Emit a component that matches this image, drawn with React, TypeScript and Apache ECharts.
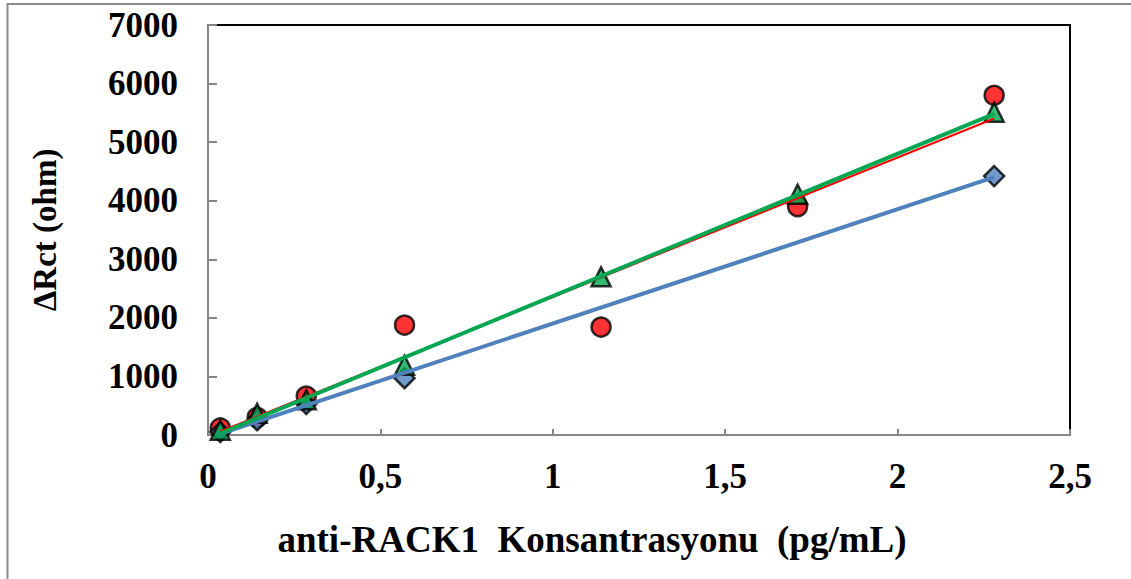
import React, { useEffect, useRef } from "react";
import * as echarts from "echarts";

// Concentrations (pg/mL)
const xValues = [0.0356, 0.1425, 0.285, 0.57, 1.14, 1.71, 2.28];
const redValues = [120, 300, 665, 1877, 1843, 3900, 5800];
const greenValues = [80, 370, 600, 1190, 2700, 4110, 5510];
const blueX = [0.0356, 0.1425, 0.285, 0.57, 2.28];
const blueValues = [50, 250, 530, 970, 4420];

const xTicks = { min: 0, max: 2.5, interval: 0.5 };
const yTicks = { min: 0, max: 7000, interval: 1000 };

const xName = "anti-RACK1  Konsantrasyonu  (pg/mL)";
const yName = "ΔRct (ohm)";

function fit(xs: number[], ys: number[]) {
  const n = xs.length;
  const mx = xs.reduce((a, b) => a + b, 0) / n;
  const my = ys.reduce((a, b) => a + b, 0) / n;
  let sxy = 0;
  let sxx = 0;
  for (let i = 0; i < n; i++) {
    sxy += (xs[i] - mx) * (ys[i] - my);
    sxx += (xs[i] - mx) * (xs[i] - mx);
  }
  const slope = sxy / sxx;
  const icpt = my - slope * mx;
  const x0 = Math.min(...xs);
  const x1 = Math.max(...xs);
  return [
    [x0, icpt + slope * x0],
    [x1, icpt + slope * x1],
  ];
}

const FONT = "'Times New Roman', 'Liberation Serif', serif";

export default function App() {
  const ref = useRef<HTMLDivElement>(null);
  useEffect(() => {
    if (!ref.current) return;
    const chart = echarts.init(ref.current, null, { renderer: "svg" });
    const pts = (xs: number[], ys: number[]) => xs.map((x, i) => [x, ys[i]]);
    chart.setOption({
      animation: false,
      backgroundColor: "#fff",
      graphic: [
        {
          type: "rect",
          shape: { x: 7.5, y: 4, width: 1300, height: 800 },
          style: { fill: "none", stroke: "#8c8c8c", lineWidth: 2 },
          z: -1,
          silent: true,
        },
      ],
      grid: {
        left: 208,
        right: 61,
        top: 25,
        bottom: 144,
        show: true,
        borderColor: "#000",
        borderWidth: 2,
        backgroundColor: "transparent",
      },
      xAxis: {
        type: "value",
        ...xTicks,
        name: xName,
        nameLocation: "middle",
        nameGap: 86,
        nameTextStyle: {
          fontFamily: FONT,
          fontWeight: "bold",
          fontSize: 37,
          color: "#000",
          padding: [0, 94, 0, 0],
        },
        axisLine: { show: true, onZero: false, lineStyle: { color: "#868686", width: 2 } },
        axisTick: { show: true, inside: true, length: 6, lineStyle: { color: "#868686", width: 2 } },
        splitLine: { show: false },
        axisLabel: {
          margin: 24,
          fontFamily: FONT,
          fontWeight: "bold",
          fontSize: 35,
          color: "#000",
          formatter: (v: number) => String(v).replace(".", ","),
        },
      },
      yAxis: {
        type: "value",
        ...yTicks,
        name: yName,
        nameLocation: "middle",
        nameGap: 147,
        nameRotate: 90,
        nameTextStyle: { fontFamily: FONT, fontWeight: "bold", fontSize: 33, color: "#000" },
        axisLine: { show: true, lineStyle: { color: "#868686", width: 2 } },
        axisTick: { show: true, inside: true, length: 9, lineStyle: { color: "#868686", width: 2 } },
        splitLine: { show: false },
        axisLabel: {
          margin: 30,
          fontFamily: FONT,
          fontWeight: "bold",
          fontSize: 35,
          color: "#000",
          formatter: (v: number) => String(v),
        },
      },
      series: [
        {
          type: "scatter",
          data: pts(xValues, redValues),
          symbol: "circle",
          symbolSize: 19,
          itemStyle: { color: "#ff0000", borderColor: "#000", borderWidth: 2.5 },
          z: 2,
        },
        {
          type: "scatter",
          data: pts(blueX, blueValues),
          symbol: "diamond",
          symbolSize: 20,
          itemStyle: { color: "#4f81bd", borderColor: "#000", borderWidth: 2.5 },
          z: 3,
        },
        {
          type: "scatter",
          data: pts(xValues, greenValues),
          symbol: "triangle",
          symbolSize: 19,
          itemStyle: { color: "#00a651", borderColor: "#000", borderWidth: 2.5 },
          z: 4,
        },
        {
          type: "line",
          data: fit(xValues, redValues),
          showSymbol: false,
          lineStyle: { color: "#ff0000", width: 2 },
          z: 5,
        },
        {
          type: "line",
          data: fit(blueX, blueValues),
          showSymbol: false,
          lineStyle: { color: "#4f81bd", width: 4 },
          z: 6,
        },
        {
          type: "line",
          data: fit(xValues, greenValues),
          showSymbol: false,
          lineStyle: { color: "#00a651", width: 4 },
          z: 7,
        },
      ],
    });
    return () => chart.dispose();
  }, []);
  return (
    <div
      ref={ref}
      style={{ position: "fixed", left: 0, top: 0, width: 1131, height: 579 }}
    />
  );
}
